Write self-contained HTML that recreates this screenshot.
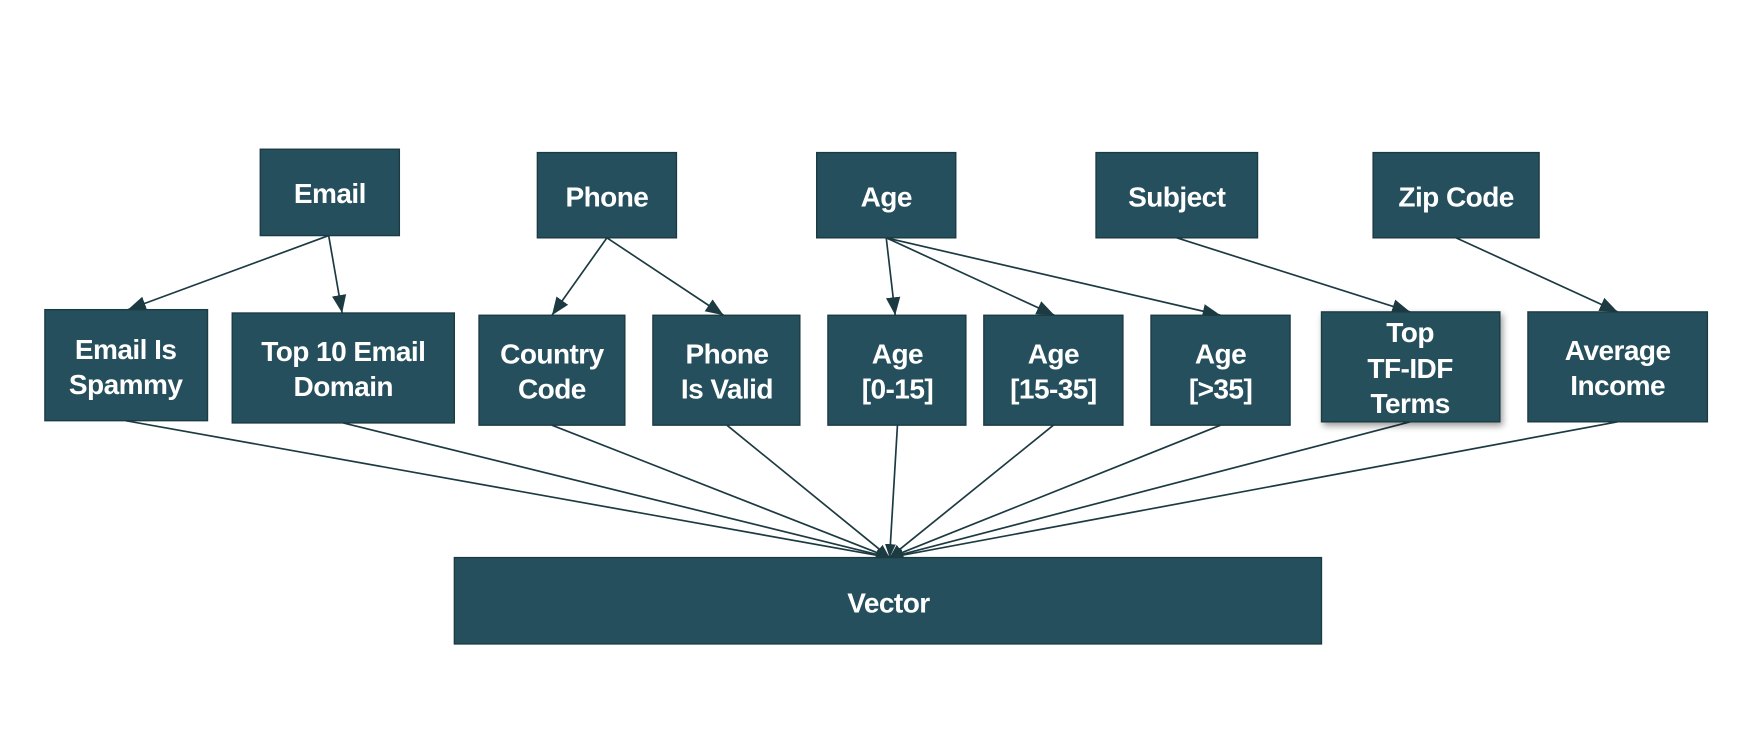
<!DOCTYPE html>
<html><head><style>html,body{margin:0;padding:0;background:#fff}svg{display:block}</style></head>
<body>
<svg width="1759" height="730" viewBox="0 0 1568 650.7" preserveAspectRatio="none" xmlns="http://www.w3.org/2000/svg">
<defs>
<marker id="b" viewBox="0 0 10 10" refX="10" refY="5" markerWidth="16" markerHeight="16" orient="auto" markerUnits="userSpaceOnUse"><path d="M0,1 L10,5 L0,9 z" fill="#1c3a42"/></marker>
<marker id="c" viewBox="0 0 10 10" refX="10" refY="5" markerWidth="12" markerHeight="12" orient="auto" markerUnits="userSpaceOnUse"><path d="M0,1 L10,5 L0,9 z" fill="#1c3a42"/></marker>
<filter id="s" x="-10%" y="-10%" width="130%" height="130%"><feDropShadow dx="2" dy="3" stdDeviation="3" flood-opacity="0.4"/></filter>
</defs>
<g stroke="#1c3a42" stroke-width="1.5" fill="none" marker-end="url(#b)">
<line x1="293" y1="210" x2="114" y2="276"/>
<line x1="293" y1="210" x2="305" y2="279"/>
<line x1="541" y1="212" x2="492" y2="281"/>
<line x1="541" y1="212" x2="645" y2="281"/>
<line x1="790" y1="212" x2="798" y2="281"/>
<line x1="790" y1="212" x2="940" y2="281"/>
<line x1="790" y1="212" x2="1088" y2="281"/>
<line x1="1049" y1="212" x2="1257" y2="278"/>
<line x1="1298" y1="212" x2="1442" y2="278"/>
</g>
<g stroke="#1c3a42" stroke-width="1.5" fill="none" marker-end="url(#c)">
<line x1="112" y1="375" x2="793" y2="497"/>
<line x1="306" y1="377" x2="793" y2="497"/>
<line x1="492" y1="379" x2="793" y2="497"/>
<line x1="648" y1="379" x2="793" y2="497"/>
<line x1="800" y1="379" x2="793" y2="497"/>
<line x1="939" y1="379" x2="793" y2="497"/>
<line x1="1088" y1="379" x2="793" y2="497"/>
<line x1="1257" y1="376" x2="793" y2="497"/>
<line x1="1442" y1="376" x2="793" y2="497"/>
</g>
<g fill="#254f5c" stroke="#1c3a42" stroke-width="1.2">
<rect x="232" y="133" width="124" height="77"/>
<rect x="479" y="136" width="124" height="76"/>
<rect x="728" y="136" width="124" height="76"/>
<rect x="977" y="136" width="144" height="76"/>
<rect x="1224" y="136" width="148" height="76"/>
<rect x="40" y="276" width="145" height="99"/>
<rect x="207" y="279" width="198" height="98"/>
<rect x="427" y="281" width="130" height="98"/>
<rect x="582" y="281" width="131" height="98"/>
<rect x="738" y="281" width="123" height="98"/>
<rect x="877" y="281" width="124" height="98"/>
<rect x="1026" y="281" width="124" height="98"/>
<rect x="1178" y="278" width="159" height="98" filter="url(#s)"/>
<rect x="1362" y="278" width="160" height="98"/>
<rect x="405" y="497" width="773" height="77"/>
</g>
<g fill="#fff" font-family="Liberation Sans, Arial, sans-serif" font-weight="bold" font-size="25" text-anchor="middle" letter-spacing="-0.5">
<text x="294" y="181">Email</text>
<text x="541" y="184">Phone</text>
<text x="790" y="184">Age</text>
<text x="1049" y="184">Subject</text>
<text x="1298" y="184">Zip Code</text>
<text x="112" y="320">Email Is</text><text x="112" y="351">Spammy</text>
<text x="306" y="322">Top 10 Email</text><text x="306" y="353">Domain</text>
<text x="492" y="324">Country</text><text x="492" y="355">Code</text>
<text x="648" y="324">Phone</text><text x="648" y="355">Is Valid</text>
<text x="800" y="324">Age</text><text x="800" y="355">[0-15]</text>
<text x="939" y="324">Age</text><text x="939" y="355">[15-35]</text>
<text x="1088" y="324">Age</text><text x="1088" y="355">[&gt;35]</text>
<text x="1257" y="305">Top</text><text x="1257" y="337">TF-IDF</text><text x="1257" y="368">Terms</text>
<text x="1442" y="321">Average</text><text x="1442" y="352">Income</text>
<text x="792" y="546">Vector</text>
</g>
</svg>
</body></html>
